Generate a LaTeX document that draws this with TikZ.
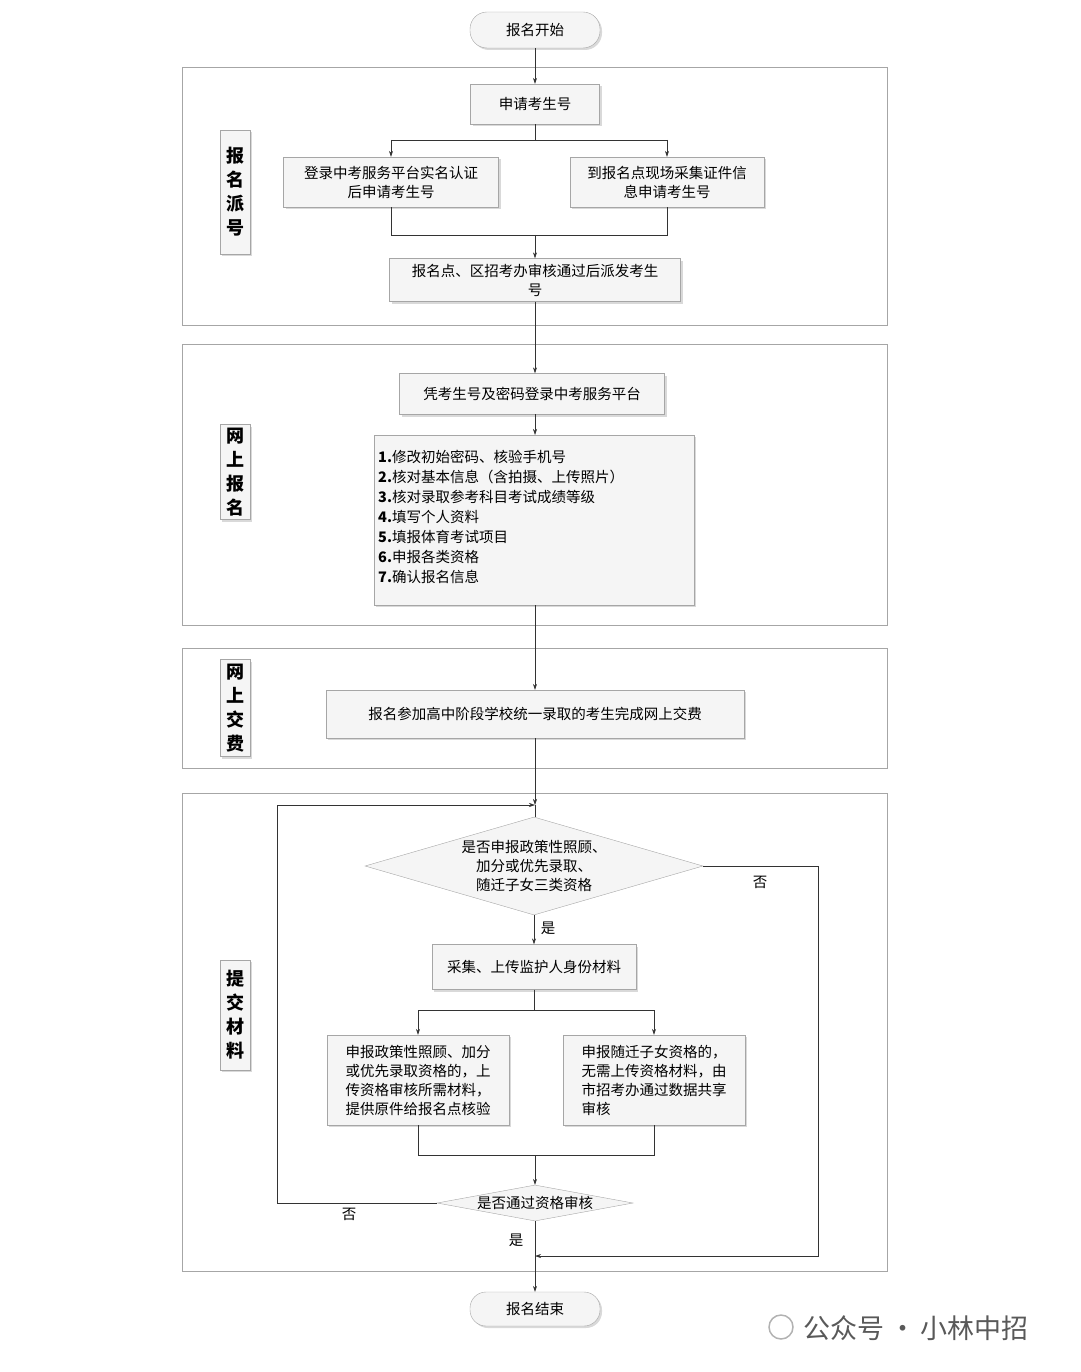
\documentclass[tikz,border=0pt]{standalone}
\usepackage{fontspec}
\setmainfont{Liberation Serif}
\newfontfamily\cjk{Noto Sans CJK SC}
\usetikzlibrary{shapes.geometric,shadows,arrows.meta}
\begin{document}
\begin{tikzpicture}[x=1pt,y=-1pt,
  font=\cjk\fontsize{14.5}{19}\selectfont,
  frame/.style={draw=gray!70,line width=0.6pt},
  sbox/.style={draw=gray!70,fill=gray!8,drop shadow={shadow xshift=2pt,shadow yshift=-2pt,opacity=0.3},align=center,inner sep=2pt},
  lbl/.style={sbox,font=\cjk\bfseries\fontsize{18}{24}\selectfont,inner sep=3pt},
  term/.style={draw=gray!70,fill=gray!8,rounded corners=17pt,drop shadow={shadow xshift=2pt,shadow yshift=-2pt,opacity=0.3}},
  arr/.style={-{Stealth[length=6pt,width=4pt]},line width=0.6pt,draw=black!80},
  ln/.style={line width=0.6pt,draw=black!80}]
\useasboundingbox (0,0) rectangle (1080,1372);
% frames
\draw[frame] (182,67) rectangle (887,325);
\draw[frame] (182,344) rectangle (887,625);
\draw[frame] (182,648) rectangle (887,768);
\draw[frame] (182,793) rectangle (887,1271);
% labels
\node[lbl,minimum width=30pt,minimum height=124pt] (L1) at (235,192) {报\\名\\派\\号};
\node[lbl,minimum width=30pt,minimum height=95pt] (L2) at (235,472) {网\\上\\报\\名};
\node[lbl,minimum width=30pt,minimum height=97pt] (L3) at (235,708) {网\\上\\交\\费};
\node[lbl,minimum width=30pt,minimum height=110pt] (L4) at (235,1015) {提\\交\\材\\料};
% nodes
\node[term,minimum width=130pt,minimum height=36pt] (start) at (535,30) {报名开始};
\node[sbox,minimum width=129pt,minimum height=40pt] (a1) at (535,104) {申请考生号};
\node[sbox,minimum width=215pt,minimum height=50pt] (a2) at (391,182) {登录中考服务平台实名认证\\后申请考生号};
\node[sbox,minimum width=194pt,minimum height=50pt] (a3) at (667,182) {到报名点现场采集证件信\\息申请考生号};
\node[sbox,minimum width=291pt,minimum height=43pt] (a4) at (535,280) {报名点、区招考办审核通过后派发考生\\号};
\node[sbox,minimum width=265pt,minimum height=41pt] (b1) at (532,394) {凭考生号及密码登录中考服务平台};
\node[sbox,minimum width=320pt,minimum height=170pt,align=left,anchor=north west,inner sep=4pt] (b2) at (374,435) {};
\node[anchor=north west,align=left,inner sep=0pt,font=\cjk\fontsize{14.5}{20}\selectfont] at (378,450) {\textbf{1.}修改初始密码、核验手机号\\\textbf{2.}核对基本信息（含拍摄、上传照片）\\\textbf{3.}核对录取参考科目考试成绩等级\\\textbf{4.}填写个人资料\\\textbf{5.}填报体育考试项目\\\textbf{6.}申报各类资格\\\textbf{7.}确认报名信息};
\node[sbox,minimum width=418pt,minimum height=48pt] (c1) at (535,714) {报名参加高中阶段学校统一录取的考生完成网上交费};
\coordinate (loop) at (535,805);
\node[diamond,draw=gray!70,fill=gray!8,aspect=3.45,minimum width=338pt,minimum height=98pt,inner sep=0pt,align=center] (d1) at (534,866) {是否申报政策性照顾、\\加分或优先录取、\\随迁子女三类资格};
\node[sbox,minimum width=204pt,minimum height=45pt] (e1) at (534,967) {采集、上传监护人身份材料};
\node[sbox,minimum width=182pt,minimum height=90pt,align=left] (e2) at (418,1080) {申报政策性照顾、加分\\或优先录取资格的，上\\传资格审核所需材料，\\提供原件给报名点核验};
\node[sbox,minimum width=182pt,minimum height=90pt,align=left] (e3) at (654,1080) {申报随迁子女资格的，\\无需上传资格材料，由\\市招考办通过数据共享\\审核};
\node[diamond,draw=gray!70,fill=gray!8,aspect=5.4,minimum width=196pt,minimum height=36pt,inner sep=0pt] (d2) at (535,1203) {是否通过资格审核};
\coordinate (join) at (535,1256);
\node[term,minimum width=130pt,minimum height=34pt,rounded corners=16pt] (end) at (535,1309) {报名结束};
% connectors
\draw[arr] (start) -- (a1);
\draw[ln] (a1.south) -- (535,140);
\draw[arr] (391,140) -- (a2.north);
\draw[arr] (667,140) -- (a3.north);
\draw[ln] (391,140) -- (667,140);
\draw[ln] (a2.south) -- (391,235) -- (667,235) -- (a3.south);
\draw[arr] (535,235) -- (a4.north);
\draw[arr] (a4.south) -- (b1.north -| 535,0);
\draw[arr] (535,414) -- (535,435);
\draw[arr] (535,605) -- (c1.north -| 535,0);
\draw[arr] (c1.south -| 535,0) -- (loop);
\draw[ln] (loop) -- (d1.north -| 535,0);
\draw[arr] (d1.south) -- (e1.north);
\draw[ln] (e1.south) -- (534,1010);
\draw[ln] (418,1010) -- (654,1010);
\draw[arr] (418,1010) -- (e2.north);
\draw[arr] (654,1010) -- (e3.north);
\draw[ln] (e2.south) -- (418,1155) -- (654,1155) -- (e3.south);
\draw[arr] (535,1155) -- (d2.north);
\draw[arr] (d2.west) -- (277,1203) -- (277,805) -- (loop);
\draw[arr] (d1.east) -- (818,866) -- (818,1256) -- (join);
\draw[ln] (d2.south) -- (join);
\draw[arr] (join) -- (end);
% edge labels
\node at (548,928) {是};
\node at (760,882) {否};
\node at (349,1214) {否};
\node at (516,1240) {是};
% watermark
\node[circle,draw=gray!60,line width=1.5pt,minimum size=24pt] (wm) at (781,1327) {};
\node[anchor=west,text=gray!70!black,font=\cjk\fontsize{27}{30}\selectfont] (wmt) at (800,1328) {公众号\,·\,小林中招};
\end{tikzpicture}
\end{document}
